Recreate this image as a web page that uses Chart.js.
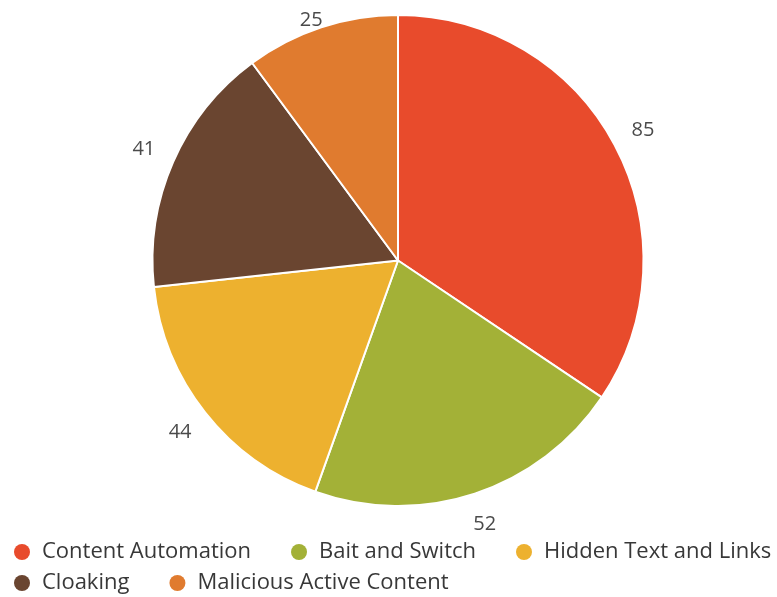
<!DOCTYPE html>
<html>
<head>
<meta charset="utf-8">
<script src="https://cdn.jsdelivr.net/npm/chart.js@4"></script>
<style>
  html, body { margin: 0; padding: 0; background: #fff; }
  .pie-container { width: 777px; height: 597px; }
</style>
</head>
<body>
<div class="pie-container">
  <canvas id="myChart"></canvas>
</div>
<script>
const categories = ["Content Automation", "Bait and Switch", "Hidden Text and Links", "Cloaking", "Malicious Active Content"];
const counts = [85, 52, 44, 41, 25];
const sliceColors = ["#E84B2C", "#A3B137", "#EDB12F", "#6A4530", "#E07B2F"];

const FONT = "'Open Sans'";

// values written just outside each slice, kept inside the canvas
const outerLabels = {
  id: "outerLabels",
  afterDatasetsDraw(chart) {
    const ctx = chart.ctx;
    const meta = chart.getDatasetMeta(0);
    ctx.save();
    ctx.font = "20px " + FONT;
    ctx.fillStyle = "#4a4a4a";
    ctx.textAlign = "center";
    ctx.textBaseline = "middle";
    meta.data.forEach((arc, i) => {
      const p = arc.getProps(["x", "y", "startAngle", "endAngle", "outerRadius"], true);
      const mid = (p.startAngle + p.endAngle) / 2;
      const r = p.outerRadius + 32;
      const x = p.x + Math.cos(mid) * r;
      const y = Math.max(20, p.y + Math.sin(mid) * r);
      ctx.fillText(String(counts[i]), x, y);
    });
    ctx.restore();
  }
};

// legend under the pie: round markers, wide gaps between items, tight rows
const bottomLegend = {
  id: "bottomLegend",
  afterDraw(chart) {
    const ctx = chart.ctx;
    const left = 14, rowTop = 552, rowGap = 31, itemGap = 40, dot = 8, textGap = 12;
    ctx.save();
    ctx.font = "22px " + FONT;
    ctx.textBaseline = "middle";
    ctx.textAlign = "left";
    let x = left, y = rowTop;
    categories.forEach((name, i) => {
      const w = dot * 2 + textGap + ctx.measureText(name).width;
      if (x > left && x + w > chart.width) {
        x = left;
        y += rowGap;
      }
      ctx.fillStyle = sliceColors[i];
      ctx.beginPath();
      ctx.arc(x + dot, y, dot, 0, Math.PI * 2);
      ctx.fill();
      ctx.fillStyle = "#383838";
      ctx.fillText(name, x + dot * 2 + textGap, y);
      x += w + itemGap;
    });
    ctx.restore();
  }
};

const myChartRef = document.getElementById("myChart").getContext("2d");
new Chart(myChartRef, {
  type: "pie",
  data: {
    labels: categories,
    datasets: [{
      data: counts,
      backgroundColor: sliceColors,
      borderColor: "#fff",
      borderWidth: 2
    }]
  },
  options: {
    responsive: true,
    maintainAspectRatio: false,
    animation: false,
    layout: { padding: { top: 14, left: 19, right: 0, bottom: 90 } },
    plugins: {
      tooltip: { enabled: false },
      legend: { display: false }
    }
  },
  plugins: [outerLabels, bottomLegend]
});
</script>
</body>
</html>
